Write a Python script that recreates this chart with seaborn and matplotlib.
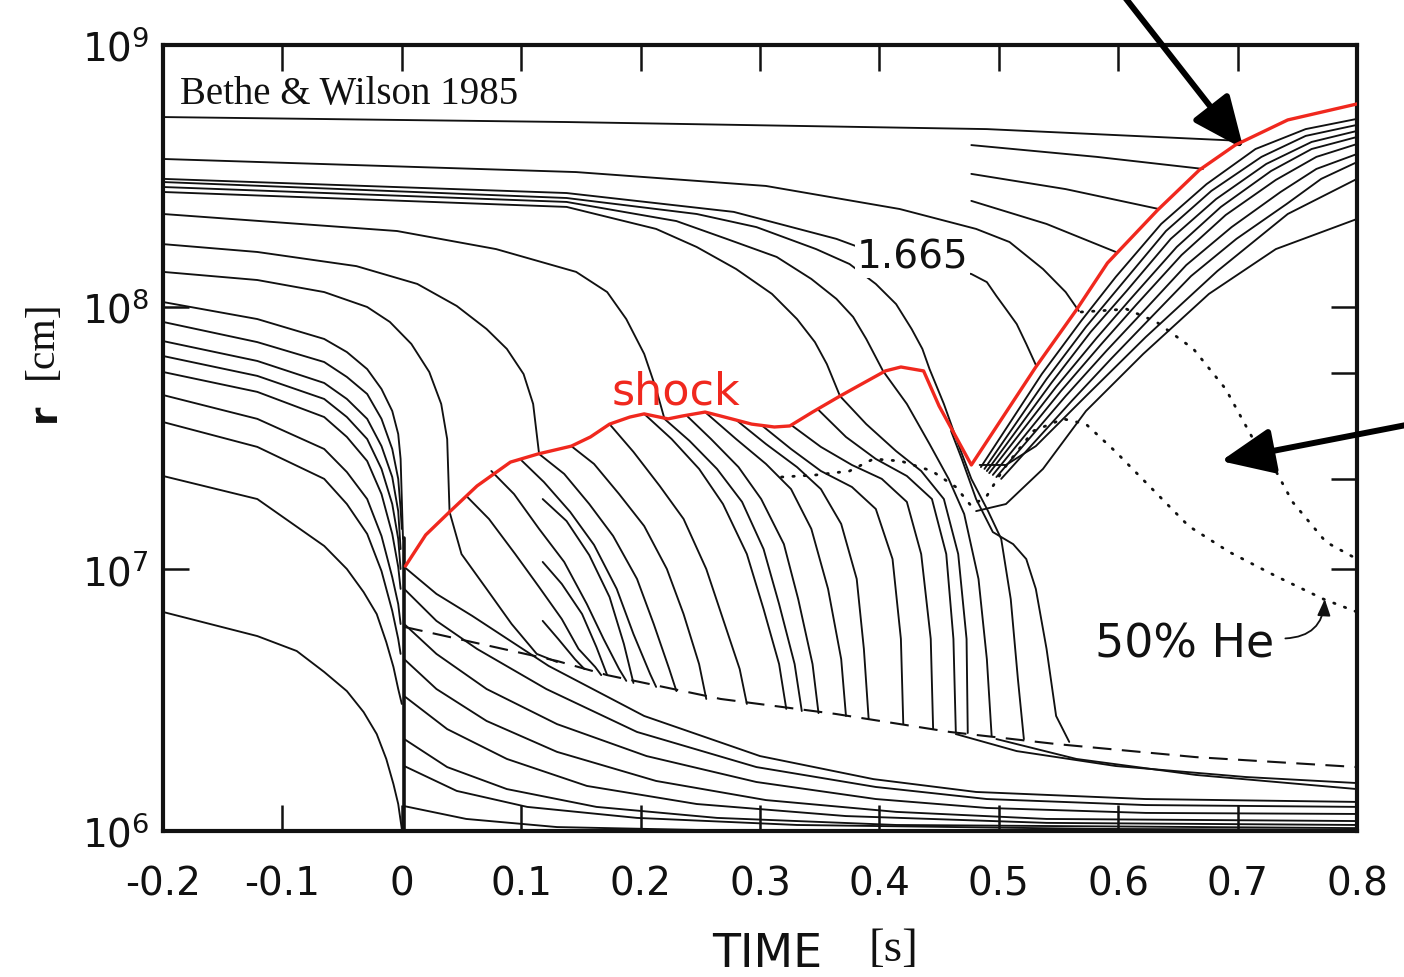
import numpy as np
import pandas as pd
import matplotlib
matplotlib.use("Agg")
import matplotlib.pyplot as plt
import seaborn as sns
from matplotlib.ticker import FixedLocator, NullLocator, FixedFormatter

# ---------------- data: time [s] and log10(r [cm]) ----------------
SHOCK_T = [0.003, 0.020, 0.040, 0.063, 0.091, 0.114, 0.142, 0.158, 0.174, 0.191, 0.203, 0.223, 0.235, 0.254, 0.267,
           0.293, 0.312, 0.325, 0.344, 0.367, 0.382, 0.405, 0.418, 0.437, 0.450, 0.477, 0.531, 0.565, 0.591,
           0.633, 0.668, 0.698, 0.742, 0.800]
SHOCK_LG = [7.011, 7.130, 7.218, 7.317, 7.408, 7.439, 7.469, 7.504, 7.553, 7.580, 7.592, 7.573, 7.584, 7.599, 7.584,
            7.553, 7.542, 7.546, 7.599, 7.660, 7.698, 7.756, 7.771, 7.756, 7.622, 7.397, 7.771, 7.989, 8.168,
            8.370, 8.523, 8.618, 8.714, 8.775]

# outer shells (cross the plot until they meet the shock)
C1_T = [-0.2, 0.138, 0.490, 0.703]
C1_LG = [8.725, 8.706, 8.679, 8.634]
C2_T = [-0.2, 0.146, 0.305, 0.417, 0.481, 0.509, 0.537, 0.556, 0.567]
C2_LG = [8.565, 8.515, 8.462, 8.374, 8.298, 8.248, 8.145, 8.057, 7.985]
C3_T = [-0.2, 0.138, 0.278, 0.364, 0.414, 0.477, 0.490, 0.498, 0.506, 0.515, 0.523, 0.531]
C3_LG = [8.489, 8.435, 8.363, 8.260, 8.176, 8.126, 8.095, 8.042, 7.992, 7.935, 7.859, 7.779]
C4_T = [-0.2, 0.138, 0.247, 0.297, 0.347, 0.375, 0.397, 0.414, 0.427, 0.436, 0.442, 0.454, 0.466, 0.477, 0.491,
        0.502, 0.510, 0.516, 0.521]
C4_LG = [8.477, 8.416, 8.355, 8.305, 8.221, 8.164, 8.088, 8.011, 7.916, 7.840, 7.763, 7.630, 7.477, 7.344, 7.221,
         7.115, 6.885, 6.580, 6.351]
C5_T = [-0.2, 0.138, 0.230, 0.272, 0.314, 0.343, 0.364, 0.378, 0.389, 0.403, 0.423, 0.442, 0.458, 0.471, 0.483,
        0.490, 0.494]
C5_LG = [8.458, 8.401, 8.328, 8.260, 8.191, 8.107, 8.031, 7.962, 7.878, 7.756, 7.630, 7.477, 7.344, 7.210, 6.962,
         6.656, 6.363]
C6_T = [-0.2, 0.138, 0.213, 0.247, 0.280, 0.310, 0.331, 0.346, 0.356, 0.367, 0.389, 0.414, 0.435, 0.454, 0.466,
        0.473, 0.474]
C6_LG = [8.439, 8.382, 8.298, 8.229, 8.145, 8.050, 7.954, 7.866, 7.782, 7.660, 7.553, 7.450, 7.374, 7.267, 7.057,
         6.733, 6.374]
C7_T = [-0.2, -0.004, 0.079, 0.146, 0.172, 0.188, 0.203, 0.213, 0.220, 0.241, 0.264, 0.285, 0.303, 0.316, 0.329,
        0.335]
C7_LG = [8.355, 8.290, 8.221, 8.134, 8.057, 7.954, 7.821, 7.687, 7.573, 7.489, 7.382, 7.256, 7.076, 6.866, 6.637,
         6.458]
C8_T = [-0.2, -0.121, -0.038, 0.013, 0.046, 0.071, 0.088, 0.102, 0.110, 0.113, 0.115, 0.136, 0.157, 0.177, 0.197,
        0.211, 0.224, 0.230]
C8_LG = [8.240, 8.210, 8.156, 8.088, 8.004, 7.916, 7.840, 7.744, 7.630, 7.515, 7.439, 7.363, 7.248, 7.126, 6.962,
         6.790, 6.618, 6.534]
C9_T = [-0.2, -0.121, -0.065, -0.029, -0.010, 0.008, 0.023, 0.033, 0.038, 0.040, 0.050, 0.071, 0.092, 0.113, 0.130]
C9_LG = [8.134, 8.103, 8.057, 8.000, 7.943, 7.859, 7.752, 7.630, 7.496, 7.218, 7.057, 6.924, 6.790, 6.676, 6.645]

# shells re-started at t ~ 0.475
S1_T = [0.477, 0.582, 0.671]
S1_LG = [8.618, 8.573, 8.527]
S2_T = [0.477, 0.556, 0.634]
S2_LG = [8.508, 8.450, 8.374]
S3_T = [0.477, 0.540, 0.598]
S3_LG = [8.405, 8.317, 8.210]

# infalling inner shells, collapsing at bounce
A1_T = [-0.2, -0.121, -0.088, -0.065, -0.046, -0.032, -0.021, -0.013, -0.007, -0.003, 0.000]
A1_LG = [6.836, 6.744, 6.687, 6.607, 6.534, 6.454, 6.370, 6.275, 6.179, 6.103, 6.008]
A2_T = [-0.2, -0.121, -0.065, -0.046, -0.032, -0.021, -0.013, -0.007, -0.003, 0.000]
A2_LG = [7.355, 7.267, 7.088, 7.000, 6.912, 6.828, 6.721, 6.626, 6.542, 6.485]
A3_T = [-0.2, -0.121, -0.065, -0.046, -0.029, -0.017, -0.008, -0.003, -0.001]
A3_LG = [7.561, 7.466, 7.344, 7.248, 7.134, 6.992, 6.840, 6.733, 6.676]
A4_T = [-0.2, -0.121, -0.065, -0.046, -0.029, -0.017, -0.008, -0.003, -0.001]
A4_LG = [7.664, 7.573, 7.458, 7.370, 7.267, 7.126, 6.969, 6.866, 6.790]
A5_T = [-0.2, -0.121, -0.065, -0.046, -0.029, -0.017, -0.008, -0.003, -0.001]
A5_LG = [7.752, 7.676, 7.580, 7.504, 7.412, 7.286, 7.134, 7.008, 6.924]
A6_T = [-0.2, -0.121, -0.065, -0.046, -0.029, -0.017, -0.008, -0.003, -0.001]
A6_LG = [7.813, 7.737, 7.649, 7.580, 7.496, 7.382, 7.248, 7.115, 7.000]
A7_T = [-0.2, -0.121, -0.065, -0.046, -0.029, -0.017, -0.008, -0.003, -0.001]
A7_LG = [7.870, 7.794, 7.710, 7.649, 7.573, 7.469, 7.351, 7.221, 7.076]
A8_T = [-0.2, -0.121, -0.065, -0.046, -0.029, -0.017, -0.008, -0.003, -0.001, 0.000]
A8_LG = [7.943, 7.866, 7.790, 7.733, 7.668, 7.573, 7.458, 7.344, 7.229, 7.153]
A9_T = [-0.2, -0.121, -0.065, -0.046, -0.029, -0.017, -0.008, -0.003, -0.001, 0.001]
A9_LG = [8.019, 7.954, 7.878, 7.828, 7.763, 7.687, 7.603, 7.515, 7.420, 7.115]
CORE_T = [0.0015, 0.0015]
CORE_LG = [6.000, 7.120]

# post-shock shells falling onto the dashed line
L2_T = [0.054, 0.073, 0.095, 0.115, 0.134, 0.148, 0.162, 0.167]
L2_LG = [7.279, 7.191, 7.057, 6.931, 6.809, 6.695, 6.626, 6.595]
L3_T = [0.075, 0.094, 0.115, 0.136, 0.155, 0.169, 0.182, 0.188]
L3_LG = [7.374, 7.286, 7.153, 7.027, 6.866, 6.733, 6.618, 6.573]
L4_T = [0.099, 0.119, 0.141, 0.161, 0.180, 0.194, 0.208, 0.213]
L4_LG = [7.420, 7.332, 7.218, 7.092, 6.924, 6.752, 6.599, 6.550]
L6_T = [0.142, 0.161, 0.182, 0.203, 0.222, 0.236, 0.249, 0.255]
L6_LG = [7.469, 7.401, 7.286, 7.164, 7.000, 6.828, 6.637, 6.504]
L7_T = [0.174, 0.194, 0.216, 0.236, 0.255, 0.269, 0.283, 0.289]
L7_LG = [7.553, 7.447, 7.317, 7.191, 7.000, 6.809, 6.618, 6.485]
L8_T = [0.203, 0.226, 0.249, 0.269, 0.289, 0.303, 0.316, 0.322]
L8_LG = [7.592, 7.496, 7.382, 7.248, 7.057, 6.847, 6.637, 6.466]
L9_T = [0.238, 0.259, 0.282, 0.301, 0.320, 0.332, 0.344, 0.349]
L9_LG = [7.588, 7.496, 7.389, 7.267, 7.095, 6.885, 6.637, 6.450]
Q1_T = [0.118, 0.138, 0.157, 0.174, 0.186, 0.194]
Q1_LG = [7.267, 7.183, 7.053, 6.893, 6.714, 6.565]
Q3_T = [0.118, 0.134, 0.151, 0.163, 0.172]
Q3_LG = [7.027, 6.943, 6.828, 6.702, 6.595]
Q4_T = [0.118, 0.131, 0.145, 0.153]
Q4_LG = [6.802, 6.733, 6.656, 6.618]
R1_T = [0.255, 0.280, 0.305, 0.326, 0.343, 0.357, 0.368, 0.372]
R1_LG = [7.595, 7.496, 7.401, 7.305, 7.153, 6.924, 6.656, 6.439]
R2_T = [0.280, 0.305, 0.331, 0.351, 0.368, 0.381, 0.387, 0.391]
R2_LG = [7.569, 7.477, 7.389, 7.305, 7.172, 6.962, 6.695, 6.427]
R3_T = [0.301, 0.326, 0.351, 0.377, 0.397, 0.411, 0.418, 0.420]
R3_LG = [7.550, 7.458, 7.374, 7.313, 7.229, 7.038, 6.733, 6.408]
R4_T = [0.326, 0.351, 0.377, 0.402, 0.423, 0.435, 0.443, 0.445]
R4_LG = [7.550, 7.466, 7.397, 7.344, 7.256, 7.057, 6.733, 6.389]
R5_T = [0.349, 0.372, 0.397, 0.423, 0.444, 0.456, 0.462, 0.464]
R5_LG = [7.607, 7.504, 7.420, 7.355, 7.267, 7.057, 6.733, 6.378]
R8_T = [0.460, 0.469, 0.481, 0.495, 0.512, 0.523, 0.531, 0.540, 0.548, 0.559]
R8_LG = [7.527, 7.420, 7.267, 7.141, 7.095, 7.038, 6.924, 6.695, 6.439, 6.340]
T1_T = [0.464, 0.515, 0.598, 0.707, 0.800]
T1_LG = [6.370, 6.305, 6.248, 6.206, 6.183]
T2_T = [0.498, 0.565, 0.665, 0.800]
T2_LG = [6.351, 6.275, 6.214, 6.160]

# shells leaving the bounced core
B1_T = [0.002, 0.029, 0.059, 0.123, 0.203, 0.300, 0.395, 0.481, 0.623, 0.800]
B1_LG = [7.008, 6.905, 6.821, 6.630, 6.439, 6.286, 6.198, 6.149, 6.122, 6.111]
B2_T = [0.002, 0.029, 0.063, 0.121, 0.197, 0.297, 0.397, 0.490, 0.623, 0.800]
B2_LG = [6.924, 6.802, 6.695, 6.542, 6.378, 6.244, 6.168, 6.122, 6.099, 6.092]
B3_T = [0.002, 0.029, 0.071, 0.130, 0.205, 0.297, 0.397, 0.490, 0.623, 0.800]
B3_LG = [6.790, 6.676, 6.542, 6.408, 6.286, 6.187, 6.122, 6.088, 6.069, 6.065]
B4_T = [0.002, 0.029, 0.071, 0.130, 0.213, 0.305, 0.414, 0.540, 0.800]
B4_LG = [6.656, 6.542, 6.420, 6.302, 6.191, 6.118, 6.073, 6.046, 6.038]
B5_T = [0.002, 0.038, 0.088, 0.155, 0.247, 0.372, 0.540, 0.800]
B5_LG = [6.515, 6.389, 6.275, 6.172, 6.103, 6.057, 6.031, 6.023]
B6_T = [0.002, 0.038, 0.088, 0.163, 0.264, 0.414, 0.800]
B6_LG = [6.351, 6.244, 6.160, 6.092, 6.050, 6.023, 6.011]
B7_T = [0.002, 0.046, 0.105, 0.197, 0.331, 0.582, 0.800]
B7_LG = [6.248, 6.153, 6.092, 6.050, 6.023, 6.008, 6.004]
B8_T = [0.002, 0.054, 0.130, 0.247]
B8_LG = [6.095, 6.046, 6.015, 6.004]

# shells expanding behind the revived shock
F1_T = [0.485, 0.536, 0.569, 0.598, 0.636, 0.674, 0.715, 0.757, 0.800]
F1_LG = [7.389, 7.744, 7.947, 8.115, 8.317, 8.469, 8.603, 8.679, 8.718]
F2_T = [0.488, 0.540, 0.573, 0.603, 0.640, 0.678, 0.720, 0.757, 0.800]
F2_LG = [7.382, 7.725, 7.924, 8.088, 8.290, 8.443, 8.573, 8.653, 8.695]
F3_T = [0.490, 0.544, 0.577, 0.607, 0.644, 0.682, 0.724, 0.762, 0.800]
F3_LG = [7.374, 7.710, 7.905, 8.061, 8.260, 8.412, 8.546, 8.630, 8.672]
F4_T = [0.492, 0.548, 0.582, 0.611, 0.649, 0.686, 0.728, 0.762, 0.800]
F4_LG = [7.366, 7.695, 7.882, 8.034, 8.229, 8.382, 8.519, 8.603, 8.649]
F5_T = [0.495, 0.552, 0.586, 0.615, 0.653, 0.690, 0.732, 0.766, 0.800]
F5_LG = [7.359, 7.679, 7.859, 8.008, 8.198, 8.351, 8.485, 8.573, 8.622]
F6_T = [0.498, 0.556, 0.590, 0.619, 0.657, 0.695, 0.736, 0.766, 0.800]
F6_LG = [7.351, 7.660, 7.832, 7.973, 8.160, 8.305, 8.439, 8.527, 8.584]
F7_T = [0.502, 0.561, 0.594, 0.623, 0.661, 0.699, 0.741, 0.770, 0.800]
F7_LG = [7.344, 7.641, 7.802, 7.939, 8.118, 8.260, 8.393, 8.489, 8.553]
F8_T = [0.484, 0.506, 0.531, 0.573, 0.623, 0.683, 0.742, 0.800]
F8_LG = [7.397, 7.397, 7.469, 7.660, 7.885, 8.137, 8.355, 8.489]
F9_T = [0.481, 0.506, 0.537, 0.573, 0.621, 0.676, 0.732, 0.800]
F9_LG = [7.221, 7.248, 7.382, 7.603, 7.821, 8.050, 8.221, 8.336]

# dashed and dotted reference curves
DASH_T = [0.002, 0.130, 0.172, 0.267, 0.363, 0.459, 0.548, 0.665, 0.800]
DASH_LG = [6.779, 6.649, 6.595, 6.504, 6.447, 6.378, 6.332, 6.282, 6.244]
HE_T = [0.318, 0.347, 0.375, 0.395, 0.418, 0.444, 0.464, 0.477, 0.490, 0.504, 0.529, 0.554, 0.573, 0.598,
        0.626, 0.659, 0.693, 0.732, 0.772, 0.800]
HE_LG = [7.351, 7.359, 7.374, 7.420, 7.412, 7.374, 7.313, 7.240, 7.279, 7.382, 7.527, 7.573, 7.553, 7.447,
         7.317, 7.164, 7.065, 6.973, 6.885, 6.836]
DOT2_T = [0.569, 0.607, 0.632, 0.663, 0.690, 0.713, 0.728, 0.746, 0.774, 0.800]
DOT2_LG = [7.981, 7.992, 7.943, 7.840, 7.687, 7.496, 7.408, 7.256, 7.103, 7.038]

X_TICKS = [-0.2, -0.1, 0.0, 0.1, 0.2, 0.3, 0.4, 0.5, 0.6, 0.7, 0.8]
X_LABELS = ["-0.2", "-0.1", "0", "0.1", "0.2", "0.3", "0.4", "0.5", "0.6", "0.7", "0.8"]
Y_TICKS = [1e6, 1e7, 1e8, 1e9]
Y_LABELS = [r"$10^{6}$", r"$10^{7}$", r"$10^{8}$", r"$10^{9}$"]
RIGHT_TICKS = [1e7, 2.2e7, 5.6e7, 1e8]

# ---------------- figure ----------------
sns.set_style("white")
plt.rcParams['font.family'] = ['DejaVu Sans']
plt.rcParams['mathtext.fontset'] = 'dejavusans'

fig = plt.figure(figsize=(14.04, 9.78), dpi=100)
ax = fig.add_axes([163 / 1404, 146 / 978, 1194 / 1404, 786 / 978])
ax.set_yscale('log')

BLACK = "#111111"
RED = "#f0281e"


def draw(t, lg, color=BLACK, lw=1.35, ls='-', z=2, **kw):
    df = pd.DataFrame({"t": t, "r": np.power(10.0, np.asarray(lg))})
    sns.lineplot(data=df, x="t", y="r", sort=False, estimator=None, color=color,
                 linewidth=lw, linestyle=ls, ax=ax, zorder=z, legend=False, **kw)


solid = [(C1_T, C1_LG), (C2_T, C2_LG), (C3_T, C3_LG), (C4_T, C4_LG), (C5_T, C5_LG), (C6_T, C6_LG),
         (C7_T, C7_LG), (C8_T, C8_LG), (C9_T, C9_LG), (S1_T, S1_LG), (S2_T, S2_LG), (S3_T, S3_LG),
         (A1_T, A1_LG), (A2_T, A2_LG), (A3_T, A3_LG), (A4_T, A4_LG), (A5_T, A5_LG), (A6_T, A6_LG),
         (A7_T, A7_LG), (A8_T, A8_LG), (A9_T, A9_LG),
         (L2_T, L2_LG), (L3_T, L3_LG), (L4_T, L4_LG), (L6_T, L6_LG), (L7_T, L7_LG), (L8_T, L8_LG),
         (L9_T, L9_LG), (Q1_T, Q1_LG), (Q3_T, Q3_LG), (Q4_T, Q4_LG),
         (R1_T, R1_LG), (R2_T, R2_LG), (R3_T, R3_LG), (R4_T, R4_LG), (R5_T, R5_LG), (R8_T, R8_LG),
         (T1_T, T1_LG), (T2_T, T2_LG),
         (B1_T, B1_LG), (B2_T, B2_LG), (B3_T, B3_LG), (B4_T, B4_LG), (B5_T, B5_LG), (B6_T, B6_LG),
         (B7_T, B7_LG), (B8_T, B8_LG),
         (F1_T, F1_LG), (F2_T, F2_LG), (F3_T, F3_LG), (F4_T, F4_LG), (F5_T, F5_LG), (F6_T, F6_LG),
         (F7_T, F7_LG), (F8_T, F8_LG), (F9_T, F9_LG)]
for t, lg in solid:
    draw(t, lg, solid_joinstyle='round')

draw(CORE_T, CORE_LG, lw=2.6)
draw(DASH_T, DASH_LG, lw=1.5, ls=(0, (9, 5)))
draw(HE_T, HE_LG, lw=2.0, ls=(0, (0.5, 3.6)), dash_capstyle='round')
draw(DOT2_T, DOT2_LG, lw=2.0, ls=(0, (0.5, 3.6)), dash_capstyle='round')
draw(SHOCK_T, SHOCK_LG, color=RED, lw=2.4, z=5, solid_joinstyle='round')

ax.set_xlim(-0.2, 0.8)
ax.set_ylim(1e6, 1e9)
ax.set_xlabel("")
ax.set_ylabel("")

ax.xaxis.set_major_locator(FixedLocator(X_TICKS))
ax.xaxis.set_major_formatter(FixedFormatter(X_LABELS))
ax.yaxis.set_major_locator(FixedLocator(Y_TICKS))
ax.yaxis.set_major_formatter(FixedFormatter(Y_LABELS))
ax.yaxis.set_minor_locator(NullLocator())
ax.xaxis.set_minor_locator(NullLocator())
ax.tick_params(axis='x', direction='in', length=19, width=1.8, top=True, bottom=True,
               labelsize=28, pad=24, colors=BLACK)
ax.tick_params(axis='y', direction='in', length=19, width=1.8, left=True, right=False,
               labelsize=28, pad=10, colors=BLACK)
for s in ax.spines.values():
    s.set_linewidth(3.0)
    s.set_color(BLACK)
    s.set_visible(True)

ax2 = ax.twinx()
ax2.set_yscale('log')
ax2.set_ylim(1e6, 1e9)
ax2.yaxis.set_major_locator(FixedLocator(RIGHT_TICKS))
ax2.yaxis.set_minor_locator(NullLocator())
ax2.tick_params(axis='y', direction='in', length=19, width=1.8, labelright=False, colors=BLACK)
for s in ax2.spines.values():
    s.set_visible(False)
ax2.grid(False)
ax.grid(False)

# ---------------- annotations ----------------
ax.text(-0.186, 10 ** 8.813, "Bethe & Wilson 1985", family="Liberation Serif", fontsize=28,
        va='center', ha='left', color=BLACK, zorder=6)
ax.text(0.230, 10 ** 7.679, "shock", fontsize=32, color=RED, ha='center', va='center', zorder=6)
ax.text(0.428, 10 ** 8.191, "1.665", fontsize=28, color=BLACK, ha='center', va='center', zorder=6,
        bbox=dict(facecolor='white', edgecolor='none', pad=1.0))
ax.text(0.656, 10 ** 6.714, "50% He", fontsize=33, color=BLACK, ha='center', va='center', zorder=6)
ax.annotate("", xy=(0.773, 10 ** 6.885), xytext=(0.740, 10 ** 6.735),
            arrowprops=dict(arrowstyle='-|>,head_length=0.5,head_width=0.2', lw=1.3, color=BLACK,
                            connectionstyle='arc3,rad=0.45', mutation_scale=20, shrinkA=0, shrinkB=0))
ax.annotate("", xy=(0.705, 10 ** 8.603), xytext=(0.6025, 10 ** 9.20), annotation_clip=False,
            arrowprops=dict(arrowstyle='-|>,head_length=0.8,head_width=0.35', lw=4.3, color='black',
                            mutation_scale=40, shrinkA=0, shrinkB=0))
ax.annotate("", xy=(0.686, 10 ** 7.412), xytext=(0.845, 10 ** 7.553), annotation_clip=False,
            arrowprops=dict(arrowstyle='-|>,head_length=0.8,head_width=0.35', lw=4.3, color='black',
                            mutation_scale=40, shrinkA=0, shrinkB=0))

fig.text(767 / 1404, 1 - 955 / 978, "TIME", fontsize=33, ha='center', va='center', color=BLACK)
fig.text(893 / 1404, 1 - 950 / 978, "[s]", family="Liberation Serif", fontsize=34, ha='center',
         va='center', color=BLACK)
fig.text(45 / 1404, 1 - 413 / 978, "r", fontsize=27, rotation=90, ha='center', va='center',
         color=BLACK, weight='bold')
fig.text(42 / 1404, 1 - 340 / 978, "[cm]", family="Liberation Serif", fontsize=30, rotation=90,
         ha='center', va='center', color=BLACK)

fig.savefig("out.png", dpi=100, facecolor='white')
